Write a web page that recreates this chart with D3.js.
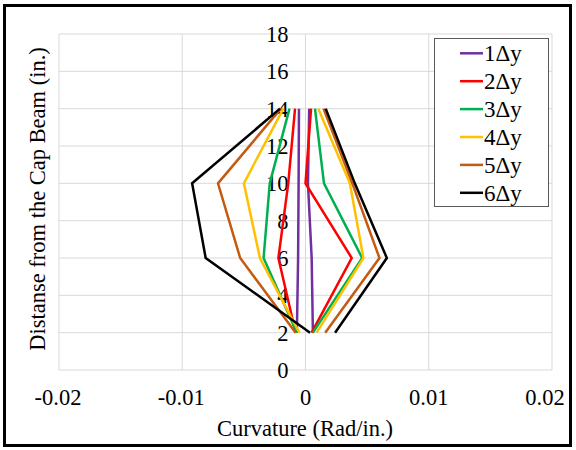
<!DOCTYPE html>
<meta charset="utf-8">
<style>
body { margin: 0; background: white; }
.grid line { stroke: #d9d9d9; stroke-width: 1; }
</style>
<svg width="576" height="450" font-family="'Liberation Serif', 'Times New Roman', Times, 'DejaVu Serif', serif"></svg>
<script src="https://d3js.org/d3.v7.min.js"></script>
<script>

// heights along the column (in.)
var levels = [2, 6, 10, 14];
var seriesNames = ["1\u0394y", "2\u0394y", "3\u0394y", "4\u0394y", "5\u0394y", "6\u0394y"];
var seriesColors = ["#7030a0", "#ff0000", "#00b050", "#ffc000", "#c55a11", "#000000"];

// curvature (rad/in.) at levels 2, 6, 10, 14 - negative side and positive side
var left1 = [-0.0007, -0.0006, -0.00056, -0.00053];
var right1 = [0.0006, 0.0005, 0.0002, 0.0003];
var left2 = [-0.0008, -0.0022, -0.0014, -0.00085];
var right2 = [0.0005, 0.00375, 0.0, 0.00045];
var left3 = [-0.0007, -0.0034, -0.0029, -0.0013];
var right3 = [0.0006, 0.0046, 0.0015, 0.00077];
var left4 = [-0.0005, -0.0037, -0.005, -0.0018];
var right4 = [0.0009, 0.0047, 0.0036, 0.00104];
var left5 = [-0.0008, -0.0053, -0.0071, -0.002];
var right5 = [0.0016, 0.006, 0.0038, 0.00146];
var left6 = [0.00037, -0.0081, -0.0092, -0.00207];
var right6 = [0.0024, 0.0066, 0.004, 0.00164];

var leftSeries = [left1, left2, left3, left4, left5, left6];
var rightSeries = [right1, right2, right3, right4, right5, right6];

var xTicks = [-0.02, -0.01, 0, 0.01, 0.02];
var yTicks = [0, 2, 4, 6, 8, 10, 12, 14, 16, 18];

var svg = d3.select("svg");

svg.append("rect").attr("width", 576).attr("height", 450).attr("fill", "white");

var x = d3.scaleLinear().domain([-0.02, 0.02]).range([59, 552]);
var y = d3.scaleLinear().domain([0, 18]).range([370, 34]);

// gridlines
var grid = svg.append("g").attr("class", "grid");
grid.selectAll(".h").data(yTicks).enter().append("line")
    .attr("x1", x(-0.02)).attr("x2", x(0.02))
    .attr("y1", function(d) { return y(d); })
    .attr("y2", function(d) { return y(d); });
grid.selectAll(".v").data(xTicks).enter().append("line")
    .attr("y1", y(0)).attr("y2", y(18))
    .attr("x1", function(d) { return x(d); })
    .attr("x2", function(d) { return x(d); });

// y tick labels sit next to the zero line
svg.append("g").selectAll("text").data(yTicks).enter().append("text")
    .attr("x", x(0) - 17)
    .attr("y", function(d) { return y(d) + 8; })
    .attr("text-anchor", "end")
    .attr("font-size", "22.5px")
    .text(function(d) { return d; });

// x tick labels (the last one is pulled in to stay inside the frame)
svg.append("g").selectAll("text").data(xTicks).enter().append("text")
    .attr("x", function(d) { return d === 0.02 ? x(d) - 7 : x(d) - (d < 0 ? 1 : 0); })
    .attr("y", 405)
    .attr("text-anchor", "middle")
    .attr("font-size", "22.5px")
    .text(function(d) { return d === 0 ? "0" : d; });

var line = d3.line()
    .x(function(d) { return x(d[0]); })
    .y(function(d) { return y(d[1]); });

var lines = svg.append("g").attr("fill", "none").attr("stroke-width", 2.5);
seriesNames.forEach(function(name, i) {
    [leftSeries[i], rightSeries[i]].forEach(function(vals) {
        lines.append("path")
            .attr("d", line(vals.map(function(v, j) { return [v, levels[j]]; })))
            .attr("stroke", seriesColors[i])
            .attr("stroke-linejoin", "miter");
    });
});

// axis titles
svg.append("text")
    .attr("x", 305).attr("y", 436)
    .attr("text-anchor", "middle")
    .attr("font-size", "22.5px")
    .text("Curvature (Rad/in.)");

svg.append("text")
    .attr("transform", "translate(45,199) rotate(-90)")
    .attr("text-anchor", "middle")
    .attr("font-size", "22.5px")
    .text("Distanse from the Cap Beam (in.)");

// legend
var legend = svg.append("g");
legend.append("rect")
    .attr("x", 434.5).attr("y", 38.5).attr("width", 114).attr("height", 168)
    .attr("fill", "white").attr("stroke", "#595959").attr("stroke-width", 1);
var item = legend.selectAll(".item").data(seriesNames).enter().append("g")
    .attr("transform", function(d, i) { return "translate(0," + (53.3 + i * 27.9) + ")"; });
item.append("line")
    .attr("x1", 460).attr("x2", 483)
    .attr("stroke-width", 2.5)
    .attr("stroke", function(d, i) { return seriesColors[i]; });
item.append("text")
    .attr("x", 484).attr("y", 8)
    .attr("font-size", "23px")
    .text(function(d) { return d; });

// outer frame
svg.append("rect")
    .attr("x", 4.5).attr("y", 5.5).attr("width", 566).attr("height", 440)
    .attr("fill", "none").attr("stroke", "black").attr("stroke-width", 3);

</script>
